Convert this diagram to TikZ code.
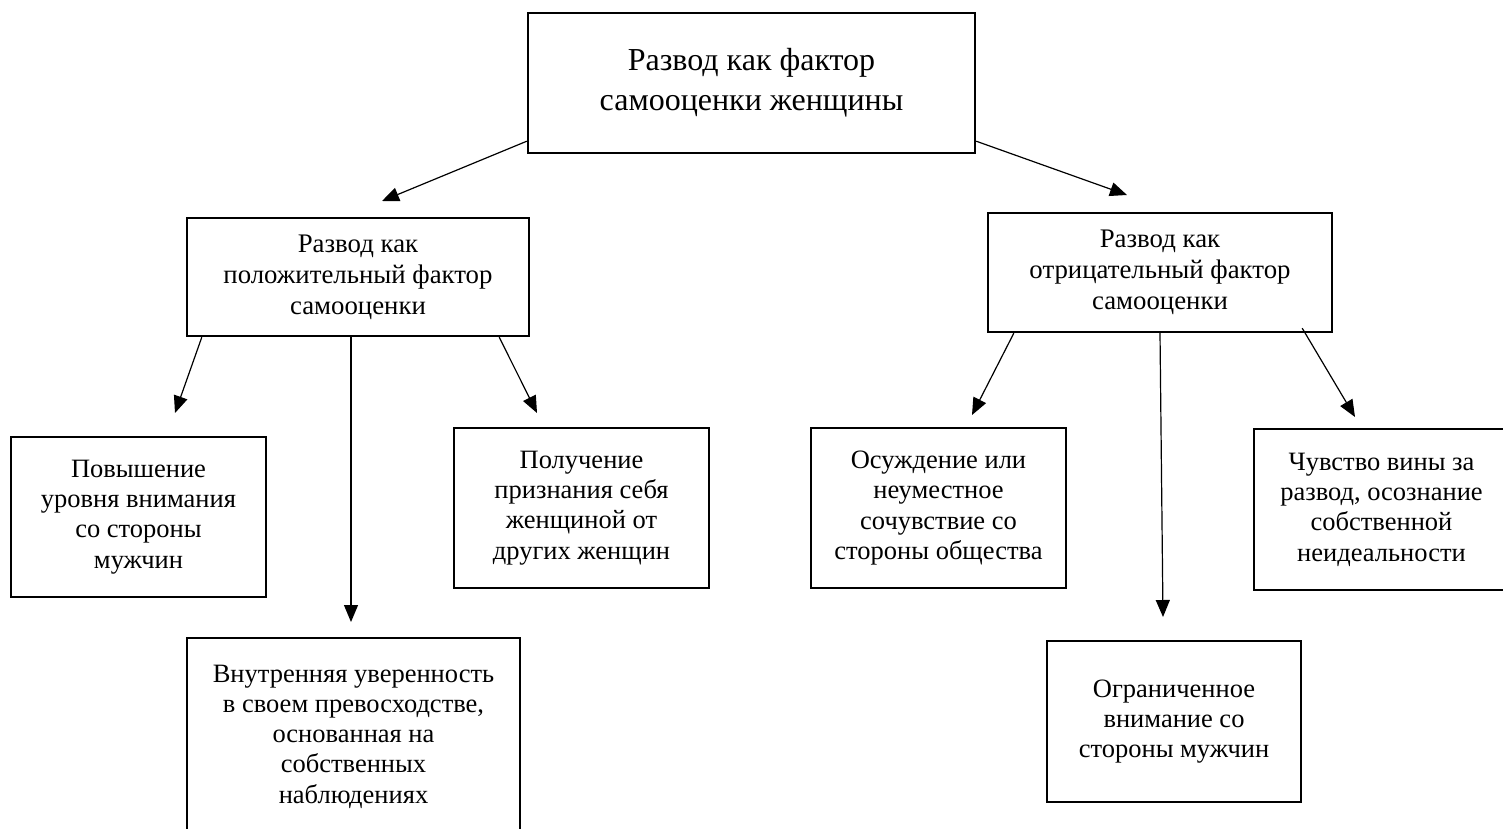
\documentclass[tikz,border=0pt]{standalone}
\usepackage{fontspec}
\setmainfont{Liberation Serif}
\usetikzlibrary{arrows.meta}
\begin{document}
\begin{tikzpicture}[x=1pt,y=-1pt,
  box/.style={draw, line width=2.4pt, align=center, inner sep=0pt, anchor=center},
  topfont/.style={font=\fontsize{32}{40}\selectfont},
  midfont/.style={font=\fontsize{26.8}{31}\selectfont},
  smallfont/.style={font=\fontsize{26.5}{30.3}\selectfont},
  arr/.style={-{Triangle[length=17pt,width=14pt]}, line width=1.2pt}]
\clip (0,0) rectangle (1503,828);
\fill[white] (0,0) rectangle (1503,828);

\node[box, topfont, minimum width=447pt, minimum height=140pt] (top) at (751.5,83)
  {Развод как фактор\\самооценки женщины};

\node[box, midfont, minimum width=342pt, minimum height=118pt] (L) at (358,277)
  {Развод как\\положительный фактор\\самооценки};
\node[box, midfont, minimum width=344pt, minimum height=119pt] (R) at (1160,272.5)
  {Развод как\\отрицательный фактор\\самооценки};

\node[box, smallfont, minimum width=255pt, minimum height=160pt] (b1) at (138.5,517)
  {Повышение\\уровня внимания\\со стороны\\мужчин};
\node[box, smallfont, minimum width=333pt, minimum height=197pt] (b2) at (353.5,736.5)
  {Внутренняя уверенность\\в своем превосходстве,\\основанная на\\собственных\\наблюдениях};
\node[box, smallfont, minimum width=255pt, minimum height=160pt] (b3) at (581.5,508)
  {Получение\\признания себя\\женщиной от\\других женщин};
\node[box, smallfont, minimum width=255pt, minimum height=160pt] (b4) at (938.5,508)
  {Осуждение или\\неуместное\\сочувствие со\\стороны общества};
\node[box, smallfont, minimum width=254pt, minimum height=161pt] (b5) at (1174,721.5)
  {Ограниченное\\внимание со\\стороны мужчин};
\node[box, smallfont, minimum width=255pt, minimum height=161pt] (b6) at (1381.5,509.5)
  {Чувство вины за\\развод, осознание\\собственной\\неидеальности};

\coordinate (tL) at (382,201);
\coordinate (tR) at (1127,195);
\coordinate (t1) at (175,413);
\coordinate (t2) at (351,622);
\coordinate (t3) at (537,413);
\coordinate (t4) at (972,415);
\coordinate (t5) at (1163,617);
\coordinate (t6) at (1355,417);

\draw[arr] ([yshift=13pt]top.south west) -- (tL);
\draw[arr] ([yshift=13pt]top.south east) -- (tR);
\draw[arr] ([xshift=16pt]L.south west) -- (t1);
\draw[arr] ([xshift=-7pt]L.south) -- (t2);
\draw[arr] ([xshift=-31pt]L.south east) -- (t3);
\draw[arr] ([xshift=27pt]R.south west) -- (t4);
\draw[arr] (R.south) -- (t5);
\draw[arr] ([xshift=-31pt,yshift=5pt]R.south east) -- (t6);
\end{tikzpicture}
\end{document}
